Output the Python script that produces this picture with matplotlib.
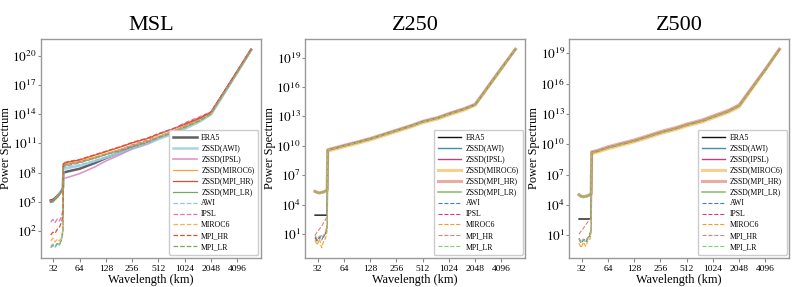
import numpy as np
import matplotlib
matplotlib.use("Agg")
import matplotlib.pyplot as plt

plt.rcParams['font.family'] = ['Liberation Serif', 'DejaVu Serif']
plt.rcParams['mathtext.fontset'] = 'stix'

# ---------------- data ----------------
wavelength = [29.8, 31.5, 33.5, 35.5, 37.5, 39.5, 41.2, 41.6, 48, 64, 96, 128,
              192, 256, 384, 512, 768, 1024, 1536, 2048, 4096, 5920]
xticks = [32, 64, 128, 256, 512, 1024, 2048, 4096]
labels = ['ERA5', 'ZSSD(AWI)', 'ZSSD(IPSL)', 'ZSSD(MIROC6)', 'ZSSD(MPI_HR)',
          'ZSSD(MPI_LR)', 'AWI', 'IPSL', 'MIROC6', 'MPI_HR', 'MPI_LR']
panels = ['MSL', 'Z250', 'Z500']
yticks_exp = {'MSL': [2, 5, 8, 11, 14, 17, 20],
              'Z250': [1, 4, 7, 10, 13, 16, 19],
              'Z500': [1, 4, 7, 10, 13, 16, 19]}

# log10(power), one list per series
msl_exp = {
    'ERA5':         [5.15, 5.2, 5.4, 5.6, 5.85, 6.1, 6.45, 8.0, 8.15, 8.4, 9.0, 9.5, 10.1, 10.6, 11.1, 11.6, 12.2, 12.7, 13.4, 14.05, 18.3, 20.6],
    'ZSSD(AWI)':    [5.0, 5.05, 5.3, 5.5, 5.8, 6.1, 6.4, 8.35, 8.5, 8.7, 9.2, 9.55, 10.05, 10.45, 10.95, 11.45, 12.0, 12.5, 13.25, 13.95, 18.25, 20.6],
    'ZSSD(IPSL)':   [5.05, 5.1, 5.3, 5.55, 5.8, 6.1, 6.4, 7.4, 7.55, 7.9, 8.6, 9.2, 9.9, 10.45, 11.0, 11.55, 12.2, 12.75, 13.45, 14.1, 18.35, 20.6],
    'ZSSD(MIROC6)': [5.0, 5.1, 5.3, 5.5, 5.8, 6.05, 6.4, 8.8, 8.95, 9.15, 9.6, 9.95, 10.4, 10.8, 11.25, 11.7, 12.25, 12.75, 13.45, 14.1, 18.35, 20.6],
    'ZSSD(MPI_HR)': [5.05, 5.1, 5.3, 5.5, 5.8, 6.1, 6.4, 8.93, 9.1, 9.3, 9.8, 10.15, 10.65, 11.05, 11.5, 11.95, 12.5, 12.95, 13.6, 14.2, 18.4, 20.65],
    'ZSSD(MPI_LR)': [4.95, 5.0, 5.25, 5.5, 5.75, 6.05, 6.4, 8.7, 8.85, 9.05, 9.5, 9.85, 10.3, 10.7, 11.15, 11.6, 12.15, 12.65, 13.35, 14.05, 18.3, 20.6],
    'AWI':          [0.45, 0.7, 0.35, 0.8, 0.55, 1.0, 2.0, 8.5, 8.6, 8.8, 9.25, 9.6, 10.1, 10.5, 11.0, 11.5, 12.05, 12.55, 13.3, 14.0, 18.3, 20.6],
    'IPSL':         [2.95, 3.2, 2.9, 3.25, 3.05, 3.5, 4.2, 8.6, 8.75, 9.0, 9.5, 9.9, 10.4, 10.85, 11.35, 11.9, 12.5, 13.1, 13.75, 14.25, 18.4, 20.65],
    'MIROC6':       [1.0, 1.3, 0.9, 1.2, 1.0, 1.4, 2.3, 8.75, 8.9, 9.1, 9.55, 9.9, 10.35, 10.75, 11.2, 11.65, 12.2, 12.7, 13.4, 14.05, 18.3, 20.6],
    'MPI_HR':       [1.6, 1.9, 1.8, 2.2, 2.4, 2.9, 3.6, 9.0, 9.15, 9.35, 9.85, 10.2, 10.7, 11.1, 11.55, 12.0, 12.55, 13.0, 13.65, 14.2, 18.4, 20.65],
    'MPI_LR':       [0.3, 0.55, 0.4, 0.75, 0.6, 1.1, 1.9, 8.75, 8.9, 9.1, 9.5, 9.85, 10.3, 10.7, 11.15, 11.6, 12.15, 12.65, 13.35, 14.05, 18.3, 20.6],
}
z250_exp = {
    'ERA5':         [2.93, 2.93, 2.93, 2.93, 2.93, 2.93, 2.95, 9.55, 9.7, 10.0, 10.4, 10.7, 11.2, 11.55, 12.05, 12.45, 12.85, 13.25, 13.75, 14.2, 17.9, 19.85],
    'ZSSD(AWI)':    [5.35, 5.25, 5.2, 5.25, 5.3, 5.4, 5.5, 9.6, 9.75, 10.05, 10.45, 10.75, 11.25, 11.6, 12.1, 12.5, 12.9, 13.3, 13.8, 14.25, 17.95, 19.85],
    'ZSSD(IPSL)':   [5.35, 5.25, 5.2, 5.25, 5.3, 5.4, 5.5, 9.55, 9.7, 10.0, 10.4, 10.7, 11.2, 11.55, 12.05, 12.45, 12.85, 13.25, 13.75, 14.2, 17.9, 19.85],
    'ZSSD(MIROC6)': [5.35, 5.25, 5.2, 5.25, 5.3, 5.4, 5.5, 9.45, 9.6, 9.9, 10.3, 10.6, 11.1, 11.45, 11.95, 12.35, 12.75, 13.15, 13.65, 14.15, 17.85, 19.85],
    'ZSSD(MPI_HR)': [5.35, 5.25, 5.2, 5.25, 5.3, 5.4, 5.5, 9.6, 9.75, 10.05, 10.45, 10.75, 11.25, 11.6, 12.1, 12.5, 12.9, 13.3, 13.8, 14.25, 17.95, 19.85],
    'ZSSD(MPI_LR)': [5.35, 5.25, 5.2, 5.25, 5.3, 5.4, 5.5, 9.55, 9.7, 10.0, 10.4, 10.7, 11.2, 11.55, 12.05, 12.45, 12.85, 13.25, 13.75, 14.2, 17.9, 19.85],
    'AWI':          [0.6, 0.3, 0.7, 0.4, 0.8, 1.1, 1.7, 9.55, 9.7, 10.0, 10.4, 10.7, 11.2, 11.55, 12.05, 12.45, 12.85, 13.25, 13.75, 14.2, 17.9, 19.85],
    'IPSL':         [0.7, 0.4, 0.6, 0.9, 0.7, 1.2, 1.9, 9.55, 9.7, 10.0, 10.4, 10.7, 11.2, 11.55, 12.05, 12.45, 12.85, 13.25, 13.75, 14.2, 17.9, 19.85],
    'MIROC6':       [0.4, -0.1, 0.5, -0.4, 0.3, 0.6, 1.4, 9.5, 9.65, 9.95, 10.35, 10.65, 11.15, 11.5, 12.0, 12.4, 12.8, 13.2, 13.7, 14.15, 17.85, 19.85],
    'MPI_HR':       [0.85, 1.2, 1.5, 1.8, 2.2, 2.5, 2.9, 9.6, 9.75, 10.05, 10.45, 10.75, 11.25, 11.6, 12.1, 12.5, 12.9, 13.3, 13.8, 14.25, 17.95, 19.85],
    'MPI_LR':       [0.9, 0.5, 0.8, 0.6, 0.9, 1.3, 1.8, 9.55, 9.7, 10.0, 10.4, 10.7, 11.2, 11.55, 12.05, 12.45, 12.85, 13.25, 13.75, 14.2, 17.9, 19.85],
}
z500_exp = {
    'ERA5':         [2.6, 2.6, 2.6, 2.6, 2.6, 2.6, 2.62, 9.17, 9.3, 9.66, 10.05, 10.33, 10.8, 11.15, 11.55, 11.9, 12.3, 12.7, 13.25, 13.8, 17.4, 19.4],
    'ZSSD(AWI)':    [5.0, 4.85, 4.8, 4.85, 4.9, 5.0, 5.1, 9.22, 9.35, 9.7, 10.1, 10.38, 10.85, 11.2, 11.6, 11.95, 12.35, 12.75, 13.3, 13.85, 17.45, 19.4],
    'ZSSD(IPSL)':   [5.0, 4.85, 4.8, 4.85, 4.9, 5.0, 5.1, 9.17, 9.3, 9.66, 10.05, 10.33, 10.8, 11.15, 11.55, 11.9, 12.3, 12.7, 13.25, 13.8, 17.4, 19.4],
    'ZSSD(MIROC6)': [5.0, 4.85, 4.8, 4.85, 4.9, 5.0, 5.1, 9.05, 9.2, 9.55, 9.95, 10.23, 10.7, 11.05, 11.45, 11.8, 12.2, 12.6, 13.15, 13.7, 17.35, 19.4],
    'ZSSD(MPI_HR)': [5.0, 4.85, 4.8, 4.85, 4.9, 5.0, 5.1, 9.25, 9.38, 9.75, 10.15, 10.42, 10.9, 11.25, 11.65, 12.0, 12.4, 12.8, 13.35, 13.9, 17.45, 19.4],
    'ZSSD(MPI_LR)': [5.0, 4.85, 4.8, 4.85, 4.9, 5.0, 5.1, 9.17, 9.3, 9.66, 10.05, 10.33, 10.8, 11.15, 11.55, 11.9, 12.3, 12.7, 13.25, 13.8, 17.4, 19.4],
    'AWI':          [0.6, 0.2, 0.5, 0.3, 0.6, 0.9, 1.6, 9.17, 9.3, 9.66, 10.05, 10.33, 10.8, 11.15, 11.55, 11.9, 12.3, 12.7, 13.25, 13.8, 17.4, 19.4],
    'IPSL':         [0.7, 0.3, 0.6, 0.5, 0.7, 1.0, 1.7, 9.17, 9.3, 9.66, 10.05, 10.33, 10.8, 11.15, 11.55, 11.9, 12.3, 12.7, 13.25, 13.8, 17.4, 19.4],
    'MIROC6':       [0.2, -0.25, 0.3, -0.1, 0.4, 0.5, 1.3, 9.1, 9.25, 9.6, 10.0, 10.28, 10.75, 11.1, 11.5, 11.85, 12.25, 12.65, 13.2, 13.75, 17.35, 19.4],
    'MPI_HR':       [1.1, 1.4, 1.7, 2.0, 2.3, 2.5, 2.75, 9.22, 9.35, 9.7, 10.1, 10.38, 10.85, 11.2, 11.6, 11.95, 12.35, 12.75, 13.3, 13.85, 17.45, 19.4],
    'MPI_LR':       [0.65, 0.3, 0.55, 0.4, 0.7, 1.0, 1.6, 9.17, 9.3, 9.66, 10.05, 10.33, 10.8, 11.15, 11.55, 11.9, 12.3, 12.7, 13.25, 13.8, 17.4, 19.4],
}
panel_data = {'MSL': msl_exp, 'Z250': z250_exp, 'Z500': z500_exp}

# ---------------- styles ----------------
msl_style = {
    'ERA5':         dict(color='#444444', lw=1.8, ls='-', alpha=0.85),
    'ZSSD(AWI)':    dict(color='#9dd0e0', lw=1.8, ls='-', alpha=0.9),
    'ZSSD(IPSL)':   dict(color='#d98cc0', lw=1.2, ls='-', alpha=0.9),
    'ZSSD(MIROC6)': dict(color='#f4a03c', lw=0.9, ls='-', alpha=1.0),
    'ZSSD(MPI_HR)': dict(color='#e04a2c', lw=0.9, ls='-', alpha=1.0),
    'ZSSD(MPI_LR)': dict(color='#76a865', lw=0.9, ls='-', alpha=1.0),
    'AWI':          dict(color='#8fc8e3', lw=0.9, ls='--', alpha=1.0),
    'IPSL':         dict(color='#d977b8', lw=0.9, ls='--', alpha=1.0),
    'MIROC6':       dict(color='#fbb04a', lw=0.9, ls='--', alpha=1.0),
    'MPI_HR':       dict(color='#e5502f', lw=0.9, ls='--', alpha=1.0),
    'MPI_LR':       dict(color='#7aa86a', lw=0.9, ls='--', alpha=1.0),
}
z_style = {
    'ERA5':         dict(color='#111111', lw=1.0, ls='-', alpha=1.0),
    'ZSSD(AWI)':    dict(color='#3f90ab', lw=1.0, ls='-', alpha=1.0),
    'ZSSD(IPSL)':   dict(color='#b8437f', lw=1.0, ls='-', alpha=1.0),
    'ZSSD(MIROC6)': dict(color='#f8c36e', lw=2.2, ls='-', alpha=0.8),
    'ZSSD(MPI_HR)': dict(color='#e49a8a', lw=2.2, ls='-', alpha=0.8),
    'ZSSD(MPI_LR)': dict(color='#86b86a', lw=1.2, ls='-', alpha=0.9),
    'AWI':          dict(color='#3b86b5', lw=0.8, ls='--', alpha=1.0),
    'IPSL':         dict(color='#cc3a8a', lw=0.8, ls='--', alpha=1.0),
    'MIROC6':       dict(color='#f0a02a', lw=0.8, ls='--', alpha=1.0),
    'MPI_HR':       dict(color='#e8826e', lw=0.8, ls='--', alpha=1.0),
    'MPI_LR':       dict(color='#86cc72', lw=0.8, ls='--', alpha=1.0),
}
panel_style = {'MSL': msl_style, 'Z250': z_style, 'Z500': z_style}

# ---------------- figure ----------------
fig = plt.figure(figsize=(7.93, 2.87), dpi=100)
lefts = [0.0513, 0.3846, 0.7175]
width = 0.278
bottom = 0.102
height = 0.761

for name, left in zip(panels, lefts):
    ax = fig.add_axes([left, bottom, width, height])
    data = panel_data[name]
    styles = panel_style[name]
    for lab in labels:
        y = 10.0 ** np.array(data[lab])
        ax.plot(wavelength, y, label=lab, **styles[lab])
    ax.set_xscale('log')
    ax.set_yscale('log')
    ax.set_xticks(xticks)
    ax.set_xticklabels([str(t) for t in xticks])
    ax.minorticks_off()
    ax.set_yticks([10.0 ** e for e in yticks_exp[name]])
    ax.set_yticklabels([r'$10^{%d}$' % e for e in yticks_exp[name]])
    ax.tick_params(axis='x', labelsize=6.8, length=3, color='#888888', pad=2)
    ax.tick_params(axis='y', labelsize=9.5, length=2, color='#888888', pad=1)
    for sp in ax.spines.values():
        sp.set_color('#999999')
        sp.set_linewidth(1.0)
    ax.set_title(name, fontsize=16, pad=7)
    ax.set_xlabel('Wavelength (km)', fontsize=8.8, labelpad=1)
    ax.set_ylabel('Power Spectrum', fontsize=8.8, labelpad=0)
    leg = ax.legend(loc='lower right', fontsize=5.6, labelspacing=0.38,
                    handlelength=3.0, handletextpad=0.6, borderaxespad=0.35,
                    borderpad=0.5, framealpha=1.0, edgecolor='#cccccc')

fig.savefig('out.png', dpi=100)
